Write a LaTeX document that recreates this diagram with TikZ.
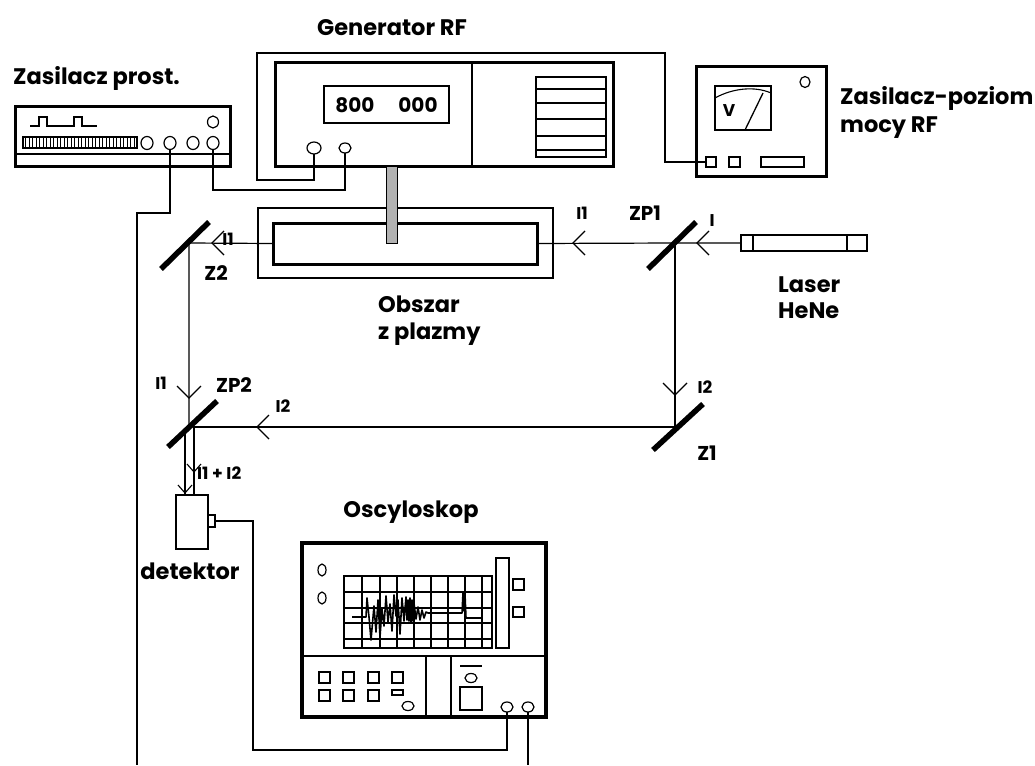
\documentclass[tikz,border=0pt]{standalone}
\usepackage{fontspec}
\setmainfont{Poppins}
\usetikzlibrary{shapes.geometric}
\tikzset{
  wire/.style={line width=1.2pt},
  beam/.style={line width=1.2pt},
  box/.style={draw, line width=3pt, inner sep=0pt, outer sep=0pt},
  thinbox/.style={draw, line width=1.2pt, inner sep=0pt, outer sep=0pt},
  mirror/.style={line width=5.5pt},
  knob/.style={draw, ellipse, line width=1.2pt, inner sep=0pt, outer sep=0pt},
  lbl/.style={font=\fontsize{22.5}{25}\selectfont\bfseries, inner sep=0pt},
  mlbl/.style={font=\fontsize{20}{23}\selectfont\bfseries, inner sep=0pt},
  slbl/.style={font=\fontsize{17}{20}\selectfont\bfseries, inner sep=0pt},
  chevL/.pic={\draw[line width=1.1pt] (12,-12) -- (0,0) -- (12,12);},
  chevD/.pic={\draw[line width=1.1pt] (-12,-12) -- (0,0) -- (12,-12);},
  chevDs/.pic={\draw[line width=1.1pt] (-7,-8) -- (0,0) -- (7,-8);},
}
\begin{document}
\begin{tikzpicture}[x=1pt,y=-1pt]
\fill[white] (0,0) rectangle (1035,765);
\useasboundingbox (0,0) rectangle (1035,765);

% ---------- DC power supply ----------
\node[lbl, anchor=base west] (tsup) at (13,85) {Zasilacz prost.};
\node[box, minimum width=215pt, minimum height=59pt] (sup) at (122.5,136.5) {};
\draw[line width=1.2pt] (15,154) -- (230,154);
\draw[line width=1.2pt] (30,126) -- (39,126) -- (39,117) -- (47,117) -- (47,126)
  -- (74,126) -- (74,117) -- (82,117) -- (82,126) -- (97,126);
\draw[line width=1.2pt] (23,137) rectangle (137,148);
\foreach \i in {0,...,31} \draw[line width=0.9pt] ({25.5+3.5*\i},137) -- ++(0,11);
\node[knob, minimum width=12pt, minimum height=13pt] (s1) at (147,143) {};
\node[knob, minimum width=12pt, minimum height=13pt] (s2) at (170,143) {};
\node[knob, minimum width=12pt, minimum height=13pt] (s3) at (193,143) {};
\node[knob, minimum width=12pt, minimum height=13pt] (s4) at (213,143) {};
\node[knob, minimum width=11pt, minimum height=12pt] (s5) at (213,122) {};

% ---------- RF generator ----------
\node[lbl, anchor=base] (tgen) at (392,36) {Generator RF};
\node[box, minimum width=338pt, minimum height=103pt] (gen) at (444,114.5) {};
\draw[line width=1.2pt] (472,63) -- (472,166);
\node[thinbox, minimum width=125pt, minimum height=37pt] (disp) at (386.5,104.5) {};
\node[mlbl, anchor=base] at (355,113) {800};
\node[mlbl, anchor=base] at (418,113) {000};
\draw[line width=1.2pt] (536,77) rectangle (606,157);
\foreach \yy in {89,103,119,136,150} \draw[line width=1.2pt] (536,\yy) -- (607,\yy);
\node[knob, minimum width=14pt, minimum height=12pt] (g1) at (314,148) {};
\node[knob, minimum width=12pt, minimum height=10pt] (g2) at (345,148) {};

% ---------- RF power meter ----------
\node[box, minimum width=130pt, minimum height=109pt] (rfm) at (761,121.5) {};
\draw[line width=1.2pt] (715,86) rectangle (771,130);
\draw[line width=1.1pt] (715,98) .. controls (733,88) and (755,86) .. (771,93);
\draw[line width=1.3pt] (745,130) -- (763,93);
\node[font=\fontsize{17}{19}\selectfont\bfseries, inner sep=0pt, anchor=base] at (729,117) {V};
\node[knob, minimum width=10pt, minimum height=11pt] (r0) at (805,82) {};
\node[thinbox, minimum width=10pt, minimum height=10pt] (rsq1) at (711,162) {};
\node[thinbox, minimum width=11pt, minimum height=10pt] (rsq2) at (734.5,162) {};
\node[thinbox, minimum width=43pt, minimum height=10pt] (rsq3) at (782.5,162) {};
\node[lbl, anchor=base west] at (840,105) {Zasilacz-poziom};
\node[lbl, anchor=base west] at (840,132) {mocy RF};

% ---------- plasma region ----------
\node[thinbox, minimum width=295pt, minimum height=70pt] (plout) at (405.5,243) {};
\node[box, minimum width=264pt, minimum height=41pt] (plin) at (405,243.5) {};
\node[draw, fill=gray!60, line width=1pt, minimum width=11pt, minimum height=77pt,
  inner sep=0pt] (rod) at (391.5,204.5) {};
\node[lbl, anchor=base west] at (378,312) {Obszar};
\node[lbl, anchor=base west] at (378,339) {z plazmy};

% ---------- laser ----------
\node[draw, line width=2.5pt, minimum width=126pt, minimum height=16pt, inner sep=0pt]
  (laser) at (804,243) {};
\draw[line width=1.2pt] (753,235) -- (753,251) (847,235) -- (847,251);
\node[lbl, anchor=base west] at (778,292) {Laser};
\node[lbl, anchor=base west] at (778,318) {HeNe};

% ---------- mirrors and beam paths ----------
\coordinate (zp1) at (675,243);
\coordinate (z2) at (189,243);
\coordinate (zp2) at (189,427);
\coordinate (zp2r) at (194,427);
\coordinate (zp2l) at (185,434);
\coordinate (z1) at (675,427);

% detector
\node[box, line width=2.5pt, minimum width=32pt, minimum height=54pt] (det) at (192,522) {};
\node[draw, line width=1.2pt, minimum width=7pt, minimum height=12pt, inner sep=0pt]
  (plug) at (211.5,521) {};
\node[lbl, anchor=base] at (190,579) {detektor};

\draw[beam] (laser.west) -- (zp1) -- (plin.east);
\draw[beam] (plin.west) -- (z2) -- (zp2);
\draw[beam] (zp1) -- (z1) -- (zp2r) -- (zp2r |- det.north);
\draw[beam] (zp2l) -- (zp2l |- det.north);

\draw[mirror, shift={(zp1)}] (-27,26) -- (21,-21);
\draw[mirror, shift={(z2)}] (-28,26) -- (20,-21);
\draw[mirror, shift={(zp2)}] (-21,20) -- (28,-26);
\draw[mirror, shift={(z1)}] (-22,23) -- (28,-23);

\pic at (697,243) {chevL};
\pic at (573,243) {chevL};
\pic at (212,243) {chevL};
\pic at (257,427) {chevL};
\pic at (675,395) {chevD};
\pic at (189,398) {chevD};
\pic at (194,472) {chevDs};
\pic at (185,493) {chevDs};

\node[slbl, anchor=base] at (712,226) {I};
\node[slbl, anchor=base] at (582,219) {I1};
\node[mlbl, anchor=base] at (645,220) {ZP1};
\node[slbl, anchor=base] at (228,245) {I1};
\node[mlbl, anchor=base] at (216,280) {Z2};
\node[slbl, anchor=base] at (161,389) {I1};
\node[mlbl, anchor=base] at (234,392) {ZP2};
\node[slbl, anchor=base] at (283,412) {I2};
\node[slbl, anchor=base] at (705,393) {I2};
\node[mlbl, anchor=base] at (707,460) {Z1};
\node[slbl, anchor=base west] at (197,479) {I1 + I2};

% ---------- oscilloscope ----------
\node[lbl, anchor=base] at (411,517) {Oscyloskop};
\node[box, line width=3.5pt, minimum width=244pt, minimum height=174pt] (osc) at (424,630) {};
\draw[line width=1.2pt] (302,656) -- (546,656) (426,656) -- (426,717) (451,656) -- (451,717);
\draw[line width=1.2pt] (344,576) rectangle (492,648);
\foreach \xx in {362,380,397,414,431,448,465,482} \draw[line width=1.2pt] (\xx,576) -- (\xx,648);
\foreach \yy in {592,608,623,639} \draw[line width=1.2pt] (344,\yy) -- (492,\yy);
\draw[line width=1.6pt, line join=round]
  (352,617) -- (366,617) -- (367,598) -- (369,617) -- (371,640) -- (374,606) -- (376,632)
  -- (378,600) -- (380,637) -- (382,609) -- (384,626) -- (386,596) -- (388,622)
  -- (390,604) -- (392,631) -- (394,595) -- (396,616) -- (398,600) -- (400,634)
  -- (402,598) -- (404,621) -- (406,597) -- (407,620) -- (408,600) -- (409,621)
  -- (410,598) -- (411,622) -- (412,600) -- (413,621) -- (414,603) -- (416,619)
  -- (418,607) -- (420,620) -- (422,610) -- (424,618) -- (426,612) -- (428,613)
  -- (462,613) -- (463,593) -- (464,611) -- (465,594) -- (466,618) -- (482,618);
\draw[line width=1.2pt] (496,558) rectangle (509,648);
\draw[line width=1.2pt] (513,579) rectangle (524,590) (513,607) rectangle (524,617);
\draw[line width=1.2pt] (322,570) ellipse [x radius=4, y radius=6];
\draw[line width=1.2pt] (322,598) ellipse [x radius=4, y radius=6];
\foreach \xx in {319,343,368,392} \draw[line width=1.2pt] (\xx,672) rectangle ++(11,11);
\foreach \xx in {319,343,368} \draw[line width=1.2pt] (\xx,690) rectangle ++(11,11);
\draw[line width=1.2pt] (392,690) rectangle (403,695);
\draw[line width=1.2pt] (408,706) ellipse [x radius=6, y radius=4.5];
\draw[line width=1.2pt] (460,666) -- (482,666);
\draw[line width=1.2pt] (471,678) ellipse [x radius=6, y radius=4.5];
\draw[line width=1.2pt] (460,687) rectangle (482,710);
\node[knob, minimum width=12pt, minimum height=10pt] (o1) at (507,707) {};
\node[knob, minimum width=12pt, minimum height=10pt] (o2) at (528,707) {};

% ---------- cabling ----------
\coordinate (endL) at (137,765);
\coordinate (endR) at (528,765);
\draw[wire] (g1.south) |- (257,180) |- (665,53) |- (rsq1.west);
\draw[wire] (g2.south) |- (213,190) -- (s4.south);
\draw[wire] (s2.south) |- (137,213) -- (endL);
\draw[wire] (plug.east) -- (253,521) |- (507,750) -- (o1.south);
\draw[wire] (o2.south) -- (endR);
\end{tikzpicture}
\end{document}
